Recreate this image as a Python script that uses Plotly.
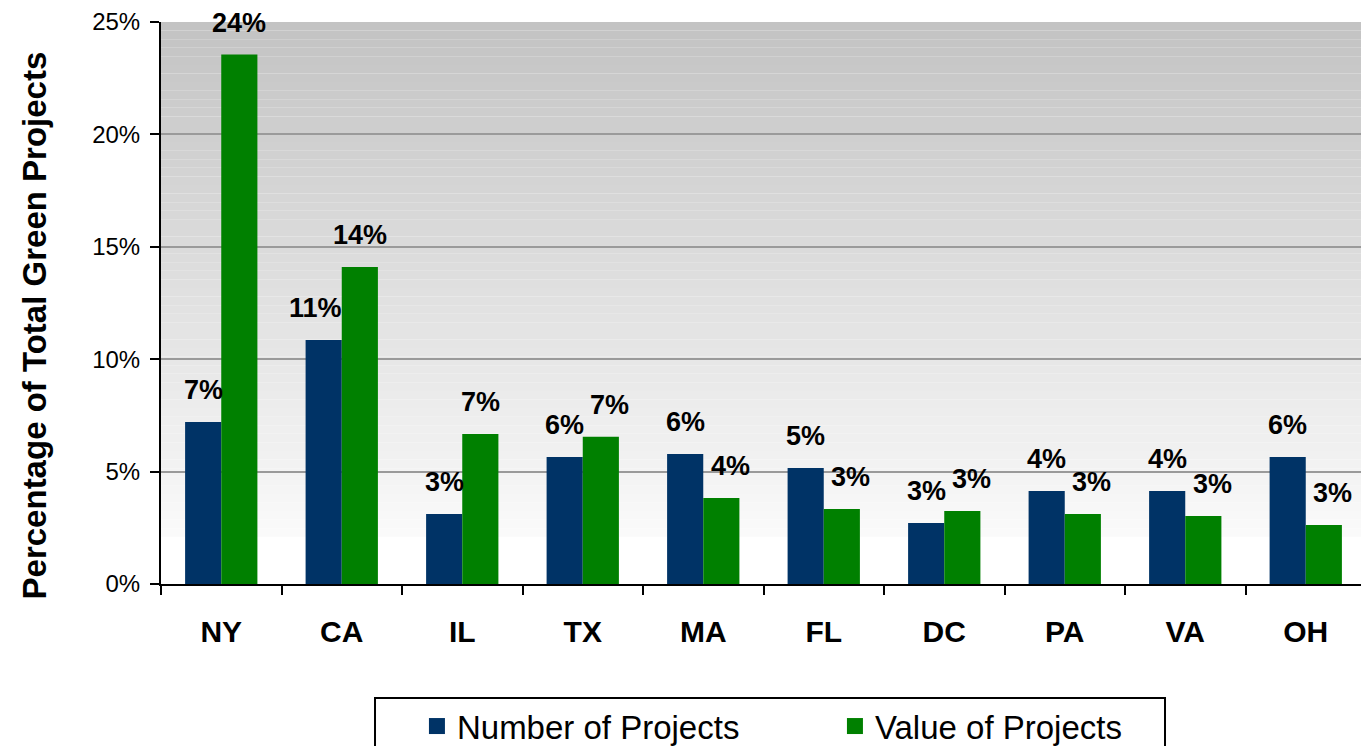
import plotly.graph_objects as go

states = ["NY", "CA", "IL", "TX", "MA", "FL", "DC", "PA", "VA", "OH"]
number_pct = [7.21, 10.85, 3.11, 5.65, 5.78, 5.16, 2.71, 4.14, 4.14, 5.65]
value_pct = [23.55, 14.1, 6.67, 6.55, 3.83, 3.34, 3.25, 3.11, 3.02, 2.62]
y_ticks = [0, 5, 10, 15, 20, 25]
y_tick_text = ["0%", "5%", "10%", "15%", "20%", "25%"]
series_names = ["Number of Projects", "Value of Projects"]
y_title = "Percentage of Total Green Projects"

NAVY = "#003366"
GREEN = "#008000"

fig = go.Figure()
fig.add_trace(go.Bar(x=states, y=number_pct, name=series_names[0], showlegend=False,
                     marker=dict(color=NAVY, line=dict(width=0))))
fig.add_trace(go.Bar(x=states, y=value_pct, name=series_names[1], showlegend=False,
                     marker=dict(color=GREEN, line=dict(width=0))))
# legend entries with larger square swatches
for nm, col in zip(series_names, [NAVY, GREEN]):
    fig.add_trace(go.Scatter(x=[None], y=[None], mode="markers", name=nm,
                             marker=dict(symbol="square", size=22, color=col)))

# gradient background bands
shapes = []
n = 60
y0 = 2.1
y1 = 25
for i in range(n):
    a = y0 + (y1 - y0) * i / n
    b = y0 + (y1 - y0) * (i + 1) / n
    t = (i + 0.5) / n
    c = int(round(250 - (250 - 195) * t))
    shapes.append(dict(type="rect", xref="paper", yref="y", x0=0, x1=1, y0=a, y1=b,
                       fillcolor=f"rgb({c},{c},{c})", line=dict(width=0), layer="below"))
shapes.append(dict(type="line", xref="paper", yref="paper", x0=1, x1=1, y0=0, y1=1,
                   line=dict(color="#808080", width=2)))
# legend frame
shapes.append(dict(type="rect", xref="paper", yref="paper", x0=0.1776, x1=0.8332,
                   y0=-0.2028, y1=-0.32, line=dict(color="black", width=2),
                   fillcolor="white", layer="below"))

label_font = dict(family="Liberation Sans", size=27, color="black", weight="bold")
annotations = []
for s, nv, vv in zip(states, number_pct, value_pct):
    t_n = f"{nv:.0f}%"
    t_v = f"{vv:.0f}%"
    # nudge labels sideways to avoid the neighbouring bar / label (as the source does)
    sh_n = -18 - (8 if (len(t_n) > 2 and vv > nv) else 0)
    sh_v = 18 + (9 if nv >= vv - 1.0 else 0)
    annotations.append(dict(x=s, y=nv, text=t_n, showarrow=False, xshift=sh_n, yshift=32,
                            font=label_font))
    annotations.append(dict(x=s, y=vv, text=t_v, showarrow=False, xshift=sh_v, yshift=32,
                            font=label_font))
annotations.append(dict(text=y_title, xref="paper", yref="paper", x=-0.1046, y=0.46,
                        xanchor="center", yanchor="middle", textangle=-90, showarrow=False,
                        font=dict(family="Liberation Sans", size=33, color="black", weight="bold")))

fig.update_layout(
    width=1361, height=738,
    margin=dict(l=153, r=3, t=14, b=162, autoexpand=False),
    paper_bgcolor="white",
    plot_bgcolor="white",
    barmode="group",
    bargap=0.4,
    bargroupgap=0,
    shapes=shapes,
    annotations=annotations,
    font=dict(family="Liberation Sans", color="black"),
    showlegend=True,
    legend=dict(orientation="h", x=0.2124, xanchor="left", y=-0.203, yanchor="top",
                borderwidth=0, bgcolor="rgba(0,0,0,0)",
                font=dict(family="Liberation Sans", size=33, color="black"),
                entrywidth=373),
)
fig.update_xaxes(
    automargin=False,
    showline=True, linecolor="black", linewidth=2,
    ticks="outside", tickson="boundaries", ticklen=9, tickwidth=2, tickcolor="black",
    tickfont=dict(family="Liberation Sans", size=30, color="black", weight="bold"),
    ticklabelstandoff=20,
    showgrid=False,
)
fig.update_yaxes(
    automargin=False,
    range=[0, 25], tickvals=y_ticks, ticktext=y_tick_text,
    showline=True, linecolor="black", linewidth=2,
    ticks="outside", ticklen=9, tickwidth=2, tickcolor="black",
    tickfont=dict(family="Liberation Sans", size=24, color="black"),
    ticklabelstandoff=5,
    showgrid=True, gridcolor="#9a9a9a", gridwidth=2,
    zeroline=False,
)

fig.write_html("out.html")
